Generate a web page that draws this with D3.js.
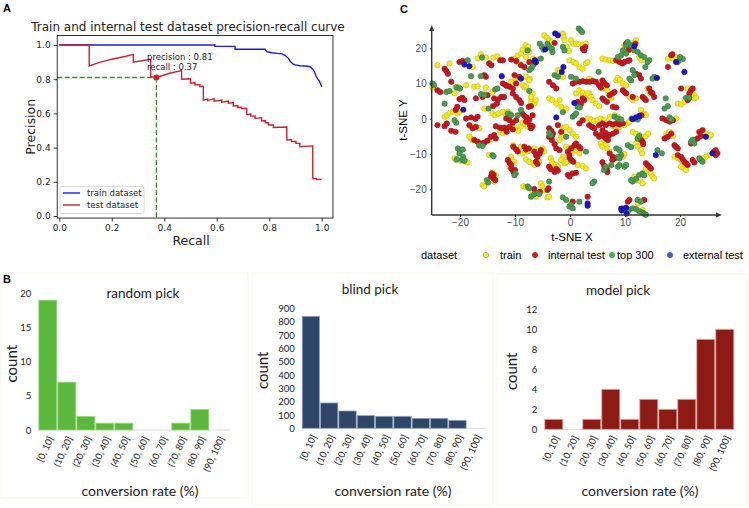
<!DOCTYPE html>
<meta charset="utf-8">
<style>
body { margin: 0; background: #fff; }
svg { display: block; }
.mpl text { font-family: "DejaVu Sans", sans-serif; fill: #222; }
.tsne text { font-family: "Liberation Sans", Arial, sans-serif; }
.hist text { font-family: Lato, "Open Sans", sans-serif; fill: #222; }
.panel-letter { font-family: "Liberation Sans", Arial, sans-serif; font-weight: bold; font-size: 11px; fill: #000; }
</style>
<body>
<script src="https://cdn.jsdelivr.net/npm/d3@7"></script>
<script>
// ---- data ----
// panel A: precision-recall curves as [recall, precision]
var trainPR = [[0,1],[0.593,1],[0.593,0.992],[0.67,0.992],[0.67,0.975],[0.784,0.975],[0.79,0.961],[0.81,0.955],
  [0.83,0.951],[0.848,0.948],[0.86,0.94],[0.873,0.922],[0.88,0.905],[0.89,0.889],[0.9,0.884],[0.917,0.879],
  [0.94,0.877],[0.955,0.873],[0.965,0.86],[0.972,0.845],[0.978,0.82],[0.985,0.8],[0.991,0.79],[0.995,0.775],[1,0.756]];
var testPR = [[0,1],[0.114,1],[0.114,0.877],[0.15,0.897],[0.2,0.917],[0.25,0.933],[0.282,0.945],[0.282,0.899],
  [0.348,0.916],[0.348,0.815],[0.37,0.81],[0.42,0.835],[0.466,0.85],[0.466,0.8],[0.5,0.803],[0.5,0.776],
  [0.517,0.78],[0.517,0.766],[0.536,0.768],[0.536,0.756],[0.549,0.758],[0.549,0.678],[0.565,0.684],[0.565,0.675],
  [0.59,0.686],[0.59,0.672],[0.619,0.678],[0.619,0.665],[0.644,0.672],[0.644,0.66],[0.663,0.663],[0.663,0.643],
  [0.68,0.646],[0.68,0.635],[0.695,0.636],[0.695,0.628],[0.714,0.63],[0.714,0.593],[0.73,0.596],[0.73,0.584],
  [0.746,0.585],[0.746,0.571],[0.771,0.575],[0.771,0.556],[0.785,0.558],[0.785,0.545],[0.797,0.546],[0.797,0.532],
  [0.816,0.533],[0.816,0.518],[0.867,0.52],[0.867,0.444],[0.885,0.447],[0.885,0.435],[0.902,0.437],[0.902,0.425],
  [0.917,0.425],[0.917,0.405],[0.966,0.41],[0.966,0.22],[0.98,0.218],[0.98,0.214],[1,0.214]];
var bestPoint = [0.37, 0.81];
var prTicks = [0, 0.2, 0.4, 0.6, 0.8, 1.0];

// panel B: histograms
var binLabels = ["[0, 10]","(10, 20]","(20, 30]","(30, 40]","(40, 50]","(50, 60]","(60, 70]","(70, 80]","(80, 90]","(90, 100]"];
var randomCounts = [19, 7, 2, 1, 1, 0, 0, 1, 3, 0];
var blindCounts = [840, 190, 130, 95, 90, 90, 75, 75, 60, 0];
var modelCounts = [1, 0, 1, 4, 1, 3, 2, 3, 9, 10];

// panel C: t-SNE coordinates
var trainPts = [[-25,8.9],[-24.1,15.2],[-21.9,15.7],[-20.8,8.9],[-20.4,9.2],[-20.1,8.6],[-21,7.2],[-22.8,0.6],[-22.4,1.0],
  [-21.9,1.7],[-21.3,2.0],[-20.4,1.5],[-20.1,2.0],[-21,-11.2],[-20.7,-11.7],[-20.4,-11.5],[-19.8,-12],[-18.9,-12.2],
  [-18.6,-12.4],[-17.7,14.7],[-18.9,9.5],[-16.8,17.1],[-16.2,18.3],[-15.3,17.4],[-14.7,15.8],[-13.9,17.4],[-13.2,17.7],
  [-17.4,9.1],[-16.8,9.2],[-15.3,8.9],[-15.6,7.2],[-14.1,7.6],[-15.6,2.9],[-14.1,1.5],[-13.6,1.0],[-13,1.5],[-12.2,2.0],
  [-18,-2.3],[-17.4,-2.1],[-16.5,-2.7],[-12.7,-3.7],[-12.2,-4],[-17.7,-6.1],[-16.5,-7.6],[-15.9,-7.0],[-15.3,-6.5],
  [-18,-5.6],[-18.3,-5.0],[-14.7,-6.0],[-14.7,-10.3],[-15.9,-18.8],[-15.6,-19.2],[-13.8,-17.8],[-13.5,-15.9],[-14.1,-15.2],
  [-11,-13.6],[-10.7,-10.8],[-10.1,-12.2],[-10.1,17.1],[-9.5,18],[-8.9,18.5],[-8.6,19.6],[-8.1,20.9],[-7.6,20.4],
  [-7.4,19],[-6.7,17.1],[-6.1,16.8],[-8,17.5],[-9.5,16],[-9.2,15.6],[-10.7,10.5],[-9.8,11.4],[-9.5,11.9],[-8,11.9],
  [-7.3,11.4],[-7.4,10.9],[-8.6,9.5],[-8.3,8.9],[-8,9.2],[-6.8,7.2],[-7.1,6.2],[-11.3,2.0],[-10.9,1.5],[-11.6,1.0],
  [-11.2,0.6],[-10.5,-2.3],[-9.8,-2.7],[-9.4,-3.4],[-8.9,-2.1],[-8.6,-1.1],[-8.1,-1.5],[-7.7,-2.3],[-7.1,4.8],[-6.5,4.3],
  [-6.2,5.3],[-10.4,-7.5],[-8.9,-7.9],[-8.6,-9.8],[-7.7,-9.3],[-6.8,-8.9],[-6.5,-8.4],[-5,-8.4],[-4.7,-9.3],[-8,-11.5],
  [-7.4,-12.2],[-6.8,-12.6],[-6.5,-13.1],[-5.9,-11.7],[-5.6,-12.2],[-8.5,-19.1],[-8,-19.4],[-6.8,-20.7],[-6.2,-22.1],
  [-5.3,-20.7],[-5.3,-18.3],[-5,-19.2],[-4.7,-20.2],[-4.1,-22.3],[-3.8,-22.1],[-4.7,23.7],[-4.2,23],[-3.8,22.3],
  [-3.3,21.8],[-1.3,24.2],[-1.2,23.2],[-1,22.3],[-0.6,20.4],[-0.2,19.2],[0.2,22.3],[0.6,21.3],[1.1,21.3],[1.7,21.1],
  [2.3,21.1],[2.9,21.3],[-0.1,16.6],[0.6,16.1],[1.1,15.7],[1.7,14.7],[2.3,14.2],[2.9,15.7],[3.2,16.1],[-2.2,13.8],
  [-1.9,13.1],[-1.6,12.4],[-1.3,11.9],[-3.8,5.8],[-3.2,5.3],[-2.5,4.3],[-1.9,5.3],[-1.6,3.4],[-0.7,2.9],[1.1,7.2],
  [1.7,8.1],[2.3,7.4],[2.3,6.2],[2.9,6.7],[3.5,7.2],[-1.3,-2.7],[-0.7,-2.3],[-0.1,-3.2],[0.5,-4.2],[1.1,-5.1],[-1.6,-5.1],
  [-1.3,-4.4],[-1.9,-6.0],[-0.7,-7.9],[-0.1,-8.4],[0.5,-9.3],[1.1,-8.9],[1.7,-9.8],[-1.3,-10.8],[-1.6,-11.7],[-1,-12.6],
  [-0.7,-12.2],[-3.5,-11.2],[-3.3,-12.2],[-3.1,-12.9],[-2.6,-13.1],[-2.2,-13.6],[1.4,-13.1],[2.3,-13.4],[2.9,-14.1],
  [0.2,-23.5],[3.5,11.4],[4.1,10.9],[5.9,8.6],[6.5,9.1],[6.8,8.1],[7.2,6.7],[7.5,5.8],[3.2,7.2],[3.8,6.2],[4.1,5.3],
  [4.7,4.3],[5.3,3.6],[8.4,10.9],[8.7,11.6],[9.1,11.1],[9.6,10],[10.2,9.5],[10.8,6.2],[11.4,5.3],[12,5.8],[5.9,17.1],
  [6.5,16.8],[7.2,16.6],[7.8,16.4],[8.4,16.6],[8.8,17.1],[10.2,20.4],[10.7,19.4],[11.1,20.4],[11.7,21.8],[12,22.3],
  [9.9,20.8],[12.6,17.5],[13,16.6],[14.1,8.6],[14.4,7.8],[14.6,7.1],[3.2,0.1],[3.8,-0.2],[4.4,-0.6],[5,-0.4],[5.6,0.1],
  [6.2,-0.4],[7.2,0.6],[8.1,1.0],[8.7,0.6],[7.8,-2.1],[8.4,-2.7],[9,-2.3],[9.9,-1.8],[10.5,-1.3],[10.8,-0.8],[13.5,1.5],
  [13.8,1.0],[12.9,2.5],[5.6,-7.0],[5.9,-7.9],[6.5,-7.2],[6.8,-8.4],[7.2,-9.3],[8.7,-11.2],[9.6,-10.8],[9.9,-10.0],
  [12,-7.0],[12.3,-7.9],[12.9,-8.9],[13.1,-9.8],[11.4,-3.7],[12,-4.2],[12.6,-4.6],[13.1,-5.1],[13.8,-4.9],[14.2,-4.2],
  [13.8,-14.1],[14.4,-15.0],[14.7,-15.5],[15,-16.4],[15.3,-16.9],[11.7,-16.4],[12,-17.4],[12.9,-17.8],[13.2,-18.3],
  [12.3,-24.0],[13.2,-25.8],[17.8,17.1],[18.7,17.1],[19.3,17.5],[19.9,16.6],[20.2,16.8],[19.6,4.3],[20.2,4.1],[20.8,4.8],
  [21.4,5.5],[22,6.2],[22.6,5.8],[21.4,8.6],[22.3,8.1],[22.6,6.7],[22.9,6.0],[18.7,-0.4],[19.3,0.1],[17.5,-4.2],
  [18.1,-3.7],[17.8,-4.6],[18.7,-4.9],[19.0,-10.8],[19.6,-11.2],[20.2,-11.7],[20.5,-12.2],[20.8,-12.6],[20.2,-13.6],
  [20.8,-14.1],[21.1,-14.5],[23.5,-5.1],[24.1,-4.6],[24.7,-4.2],[25.3,-5.1],[25.6,-4.6],[25.3,-10.3],[24.7,-10.8],[24.1,-11.2]];
var internalPts = [[-22.8,14.2],[-22.5,13.6],[-22.2,12.8],[-21.6,10.5],[-24.1,8.1],[-23.6,7.6],[-24.1,-1.8],[-22.8,-2.1],
  [-22.4,-1.3],[-21.6,-3.4],[-20.8,-3.7],[-20.8,2.5],[-20.5,3.4],[-20.1,5.6],[-19.6,6.0],[-19.2,5.3],[-20.1,16.1],
  [-19.5,16.4],[-14.7,15.7],[-14.3,15.2],[-12.7,16.6],[-12.2,16.6],[-15.6,12.4],[-15.3,11.9],[-17.1,5.8],[-15.9,6.2],
  [-15,6.7],[-13.8,5.8],[-13.1,5.5],[-12.5,6.2],[-12,6.2],[-12.2,10],[-11.6,9.4],[-14,3.6],[-13.3,4.3],[-18.9,0.1],
  [-18,0.4],[-17.2,0],[-16.8,0.6],[-18.3,-1.8],[-17.7,-2.7],[-17.1,-2.3],[-13.5,-2.1],[-12.8,-2.5],[-12.4,-2.7],
  [-11.9,-2.5],[-11.6,-3.2],[-11.5,-3.7],[-17.4,-6],[-16.8,-6.5],[-16.2,-7],[-15.6,-6.8],[-15,-6.2],[-14.4,-5.1],
  [-13.8,-4.6],[-13.5,-5.6],[-14.4,-16.4],[-13.9,-16.9],[-13.6,-17.4],[-13.9,-15.9],[-14.2,-15.5],[-11.3,-11.7],
  [-11,-12.5],[-10.7,-13.1],[-10.7,-14.1],[-10.3,-15.0],[-10,-14.5],[-10.7,16.8],[-9.8,16.4],[-8.9,15.2],[-8.3,14.7],
  [-7.4,16.1],[-6.5,15.7],[-6.2,16.1],[-11.6,9.5],[-11,9.1],[-10.4,8.6],[-9.8,10],[-9.2,11.9],[-10.1,12.4],[-10.4,7.2],
  [-9.8,6.2],[-9.2,5.3],[-8.9,4.5],[-7.5,3.4],[-7.1,3.6],[-11.6,0.1],[-11,-0.4],[-10.4,-1.1],[-9.8,-0.4],[-11,-2.3],
  [-10.4,-3],[-8.7,1.5],[-8.3,0.8],[-7.9,0.4],[-8,-0.8],[-7.4,-0.2],[-6.8,1.0],[-7.3,-1.8],[-6.8,-2.1],[-7.1,-2.7],
  [-10.3,-7.9],[-9.8,-8.7],[-9.5,-9.3],[-8.3,-7.9],[-8,-8.7],[-7.5,-8.4],[-6.5,-9.3],[-6.2,-10.3],[-5.9,-10.8],
  [-5.5,-9.8],[-5.3,-8.9],[-6.2,-12.2],[-5.9,-12.8],[-5.5,-20.7],[-4.1,-20.2],[-3.9,-19.7],[-6.5,-19.9],[-2.8,21.5],
  [2.3,19.9],[2.6,19.4],[2.8,20.4],[0.5,10],[1.1,10.5],[1.8,10.5],[2.3,10.7],[2.9,10.5],[3.5,10.5],[4.1,10.7],
  [-3.8,10.5],[-3.1,9.5],[-2.5,8.6],[1.4,4.8],[2,4.3],[2.6,5.3],[2.3,5.8],[-3.8,-2.7],[-3.4,-3.4],[-3.1,-4.2],[-3.3,-4.9],
  [-3.8,-5.1],[-3.3,-6],[-2.8,-7.2],[-2.5,-8.4],[-1.9,-8.9],[-0.4,-9.3],[-0.1,-10.3],[0.2,-8.4],[0.8,-7.5],[1.1,-7.0],
  [1.6,-7.9],[1.9,-8.4],[-0.1,-11],[0.2,-11.7],[0.6,-12.2],[-2.5,-14.2],[-2.2,-14.7],[-2.8,-15.1],[-3.8,-13.6],
  [-3.5,-14.3],[-0.4,-15.9],[-0.1,-16.4],[0.5,-15.5],[1.1,-15.3],[0.5,-23.5],[3.2,-22.1],[-2.2,-1.8],[-1.6,-3.7],
  [1.7,-1.3],[2.3,-0.4],[4.7,10.5],[5.3,9.5],[5.6,8.9],[5.9,10.9],[6.2,10.2],[6.7,9.5],[5.9,5.8],[6.2,5.3],[6.7,4.8],
  [7.2,6.7],[7.7,7.2],[8.1,7.6],[9.6,8.1],[9.9,7.6],[10.2,7.2],[11.4,6.2],[7.8,3.4],[8.4,3.2],[8.4,16.6],[9,16.1],
  [9.5,15.7],[9.9,16.1],[10.5,16.4],[10.8,16.6],[10.2,21.3],[10.7,19.6],[11.9,21.3],[12.6,12.4],[12.9,11.4],[12,12.8],
  [14.4,8.6],[14.7,7.6],[15,7.2],[15.3,6.2],[13.2,6.2],[13.5,5.8],[13.8,5.3],[3.5,-1.8],[4.0,-2.3],[4.4,-2.7],[5.3,-1.8],
  [5.9,-1.3],[6.5,-1.8],[7.2,-1.3],[7.8,-1.6],[8.4,-1.3],[9,-1.6],[9.6,-1.3],[12,0.1],[12.6,0.6],[13.0,1.0],[5.9,-3.2],
  [6.5,-4.0],[7.2,-4.6],[7.8,-4.2],[8.4,-3.7],[4.7,-4.2],[5.3,-5.1],[5.6,-4.6],[6.2,-5.1],[6.5,-5.6],[6.9,-6.0],
  [7.2,-9.8],[7.8,-10.8],[8.1,-11.2],[7.7,-11.7],[5.9,-12.3],[6.2,-13.3],[6.7,-14.2],[6.8,-15.1],[12.6,-5.6],[12.9,-6.0],
  [13.2,-6.5],[13.3,-7.2],[13.8,-12.6],[14.1,-13.1],[14.4,-13.6],[14.7,-14.1],[10.5,-23.5],[10.8,-23.0],[13.5,-23.0],
  [18.4,18],[18.6,18.3],[17.8,14.7],[20.2,8.6],[21.7,7.2],[22,8.1],[22.3,8.6],[21.4,5.3],[21.6,6.0],[16.8,0.1],
  [17.5,-0.4],[18.1,-0.8],[18.7,-0.4],[17.2,-5.6],[17.8,-5.1],[18.4,-4.2],[19.0,-7.5],[19.3,-8.0],[19.6,-8.4],
  [19.6,-10.3],[20.2,-10.8],[20.5,-11.5],[20.8,-12.2],[21.1,-12.6],[21.4,-13.1],[22,-7.0],[22.6,-6.0],[23.2,-5.6],
  [23.8,-4.9],[23.5,-3.7],[24.1,-3.2],[26.2,-9.3],[26.5,-8.9],[26.8,-9.8],[26.5,-10.3],[22.3,-11.7],[22.6,-12.4]];
var top300Pts = [[-25,10],[-24.7,9.5],[-22.5,7.6],[-21.9,7.9],[-20.6,8.9],[-20.0,8.6],[-22.8,4.3],[-20.7,-1.1],[-21,-0.4],
  [-20.4,-8.4],[-20,-9.1],[-19.5,-8.7],[-20.1,-9.8],[-19.4,-10.8],[-20.6,-11.5],[-19.6,-11.7],[-19.2,-11.9],[-18.6,16.6],
  [-18,12.1],[-16,17.4],[-16.2,12.1],[-16.2,7.0],[-15.6,6.7],[-13.6,8.3],[-13.2,8.6],[-14.8,2.9],[-16.5,-7.5],[-15.9,-7.7],
  [-14.1,-10.3],[-13.9,-10.6],[-15.1,-17.4],[-14.9,-18.1],[-9.9,-15.5],[-10.1,-16.0],[-7.4,13.8],[-7.1,14.2],[-6.8,14.9],
  [-5.3,17.1],[-5.5,21.3],[-5.1,20.4],[-4.8,19.6],[-7.4,7.9],[-11.3,1.5],[-10.7,1.0],[-9.5,1.0],[-8.9,2.5],[-7.7,19.4],
  [-7.7,-19.2],[-7.4,-19.7],[-7.1,-22.1],[-6.5,-21.4],[-5.9,-21.1],[-5.6,-21.3],[-3.5,-4.6],[-3.8,-4.0],[-4.1,21.3],
  [-3.8,20.4],[-3.3,19.9],[-3.2,18.9],[-1.3,20.4],[-1,19.4],[1.6,25.6],[1.9,25.1],[2.2,24.6],[-2.8,12.4],[-2.2,11.9],
  [0.2,11.9],[1.1,11.4],[1.4,3.4],[1.8,3.2],[0.5,0.6],[0.8,1.0],[1.1,1.5],[-1.3,1.9],[-0.7,-5.1],[-1.3,-22.3],[-0.7,-23],
  [-0.1,-24.9],[0.2,-24.4],[0.5,-25.4],[1.7,-23.5],[-3.8,-17.8],[2.9,-9.3],[4.4,-17.8],[4.1,-18.3],[5.2,13.3],[8.7,17.5],
  [9.3,18.0],[9.6,19.4],[10.2,20.8],[10.5,21.8],[11.1,20.9],[11.7,19.4],[12.3,19.0],[12.9,18.0],[13.5,17.5],[10.2,18.5],
  [11.4,13.8],[11.7,12.4],[11.1,10.9],[10.8,11.4],[14.4,16.6],[14.1,16.1],[13.7,14.7],[15.3,11.9],[15,11.4],[12.3,-0.2],
  [11.2,0.1],[8.1,0.6],[8.7,0.1],[9.3,-0.2],[8.4,-8.4],[9,-8.9],[9.3,-10.3],[8.7,-10.8],[9,-11.2],[10.5,-7.5],[11.1,-8.0],
  [12.3,-5.6],[12.6,-4.9],[6.2,-14.5],[6.5,-13.6],[7.5,-13.1],[8.7,-13.6],[9.0,-13.1],[9.9,-13.6],[10.2,-13.1],
  [11.4,-17.8],[11.1,-17.4],[12,-17.0],[12.6,-15.9],[13.2,-15.5],[13.5,-16.0],[9.6,-25.4],[10.2,-25.6],[10.8,-25.8],
  [11.4,-25.4],[12.0,-25.6],[12.6,-26.2],[13.2,-26.6],[13.5,-27.0],[13.8,-27.2],[12.3,-23.0],[12.9,-23.5],[15.9,-8.9],
  [16.7,-9.8],[17.4,5.8],[17.2,2.9],[17.8,3.6],[19.6,16.1],[20.5,17.0],[20.0,17.5],[21.1,6.0],[21.7,6.0],[18.1,0.4],
  [18.4,-0.2],[22,-6.5],[22.3,-5.9],[22.6,-7.0],[23.8,-11.7],[24.1,-12.2],[23.5,-11.2]];
var externalPts = [[-19.4,2.6],[-19.2,15.4],[-18.3,14.9],[-12.4,12.1],[-8.9,11.4],[-6.4,16.6],[-6.2,16.1],[-4.5,19.7],
  [-2.7,24.2],[-2.2,23.7],[-1.2,14.7],[-1.5,13.3],[0.8,4.5],[-2.5,0.4],[3.2,-24],[3.2,-24.7],[11.7,20.6],[15.8,11.6],
  [11.4,-0.1],[12,0.4],[12.6,0.8],[9.3,-25.5],[9.4,-26],[10.3,-26.9],[10.2,-25.2],[15.6,-10.3],[19.3,16.1],[20.8,13.3],
  [24.7,-5.1],[25.9,-9.8]];
var tsneTicks = [-20, -10, 0, 10, 20];
var groupNames = ["train", "internal test", "top 300", "external test"];

var svg = d3.select("body").append("svg")
  .attr("width", 749).attr("height", 508);
svg.append("rect").attr("width", 749).attr("height", 508).attr("fill", "#fff");

// ================= panel A =================
var gA = svg.append("g").attr("class", "mpl");
var xA = d3.scaleLinear().domain([0, 1]).range([59.3, 321.7]);
var yA = d3.scaleLinear().domain([0, 1]).range([216, 45]);
var frameA = {x0: xA(-0.008), x1: xA(1.043), y0: yA(1.055), y1: yA(-0.012)};

svg.append("text").attr("class", "panel-letter").attr("x", 3).attr("y", 12).text("A");

gA.append("text").attr("x", 188).attr("y", 31).attr("text-anchor", "middle")
  .style("font-size", "12px").text("Train and internal test dataset precision-recall curve");

var line = d3.line().x(function(d) { return xA(d[0]); }).y(function(d) { return yA(d[1]); });

// dashed guides to the chosen threshold
gA.append("line")
  .attr("x1", frameA.x0).attr("x2", xA(bestPoint[0]))
  .attr("y1", yA(bestPoint[1])).attr("y2", yA(bestPoint[1]))
  .attr("stroke", "#3d8b2f").attr("stroke-width", 1.3).attr("stroke-dasharray", "5,2.5");
gA.append("line")
  .attr("x1", xA(bestPoint[0])).attr("x2", xA(bestPoint[0]))
  .attr("y1", yA(bestPoint[1])).attr("y2", frameA.y1)
  .attr("stroke", "#3d8b2f").attr("stroke-width", 1.3).attr("stroke-dasharray", "5,2.5");

gA.append("path").attr("d", line(trainPR)).attr("fill", "none").attr("stroke", "#1a1ae6").attr("stroke-width", 1.4);
gA.append("path").attr("d", line(testPR)).attr("fill", "none").attr("stroke", "#c8232c").attr("stroke-width", 1.4);

gA.append("circle").attr("cx", xA(bestPoint[0])).attr("cy", yA(bestPoint[1])).attr("r", 3).attr("fill", "#c8232c");
gA.append("text").attr("x", 147).attr("y", 60).style("font-size", "8.5px").text("precision : " + bestPoint[1].toFixed(2));
gA.append("text").attr("x", 147).attr("y", 70).style("font-size", "8.5px").text("recall : " + bestPoint[0].toFixed(2));

gA.append("rect")
  .attr("x", frameA.x0).attr("y", frameA.y0)
  .attr("width", frameA.x1 - frameA.x0).attr("height", frameA.y1 - frameA.y0)
  .attr("fill", "none").attr("stroke", "#000").attr("stroke-width", 0.8);

var axA = gA.append("g").attr("transform", "translate(0," + frameA.y1 + ")")
  .call(d3.axisBottom(xA).tickValues(prTicks).tickFormat(d3.format(".1f")).tickSize(3.5).tickPadding(3));
var ayA = gA.append("g").attr("transform", "translate(" + frameA.x0 + ",0)")
  .call(d3.axisLeft(yA).tickValues(prTicks).tickFormat(d3.format(".1f")).tickSize(3.5).tickPadding(3));
[axA, ayA].forEach(function(a) {
  a.select(".domain").remove();
  a.selectAll("text").style("font-size", "9px").style("font-family", "DejaVu Sans").attr("fill", "#222");
  a.selectAll("line").attr("stroke", "#000").attr("stroke-width", 0.8);
});

gA.append("text").attr("x", (frameA.x0 + frameA.x1) / 2 - 4).attr("y", 245).attr("text-anchor", "middle")
  .style("font-size", "12.5px").text("Recall");
gA.append("text").attr("transform", "translate(35," + ((frameA.y0 + frameA.y1) / 2) + ") rotate(-90)")
  .attr("text-anchor", "middle").style("font-size", "12.5px").text("Precision");

// legend
var legA = gA.append("g");
legA.append("rect").attr("x", 60).attr("y", 186.5).attr("width", 84).attr("height", 27).attr("rx", 2)
  .attr("fill", "#fff").attr("fill-opacity", 0.8).attr("stroke", "#d0d0d0").attr("stroke-width", 0.8);
[["train dataset", "#1a1ae6", 193], ["test dataset", "#c8232c", 205]].forEach(function(e) {
  legA.append("line").attr("x1", 63).attr("x2", 80).attr("y1", e[2]).attr("y2", e[2])
    .attr("stroke", e[1]).attr("stroke-width", 1.4);
  legA.append("text").attr("x", 87).attr("y", e[2] + 3).style("font-size", "8.5px").text(e[0]);
});

// ================= panel C =================
var gC = svg.append("g").attr("class", "tsne");
var xC = d3.scaleLinear().domain([-20, 20]).range([460, 680]);
var yC = d3.scaleLinear().domain([-20, 20]).range([189.3, 48.3]);
var cX0 = 431.7, cX1 = 722, cY0 = 25, cY1 = 215;

svg.append("text").attr("class", "panel-letter").attr("x", 400).attr("y", 13).text("C");

var groups = [
  {pts: trainPts, fill: "#f3ea1f", stroke: "#c2b52c"},
  {pts: internalPts, fill: "#c5171f", stroke: "#9a1419"},
  {pts: top300Pts, fill: "#4c9b55", stroke: "#33763a"},
  {pts: externalPts, fill: "#1c12c9", stroke: "#140f8c"}
];
groups.forEach(function(g) {
  gC.append("g").selectAll("circle").data(g.pts).enter().append("circle")
    .attr("cx", function(d) { return xC(d[0]); })
    .attr("cy", function(d) { return yC(d[1]); })
    .attr("r", 2.7)
    .attr("fill", g.fill).attr("stroke", g.stroke).attr("stroke-width", 0.6);
});

// axes with arrow heads
gC.append("line").attr("x1", cX0).attr("x2", cX1 - 4).attr("y1", cY1).attr("y2", cY1)
  .attr("stroke", "#333").attr("stroke-width", 1.4);
gC.append("line").attr("x1", cX0).attr("x2", cX0).attr("y1", cY1).attr("y2", cY0 + 4)
  .attr("stroke", "#333").attr("stroke-width", 1.4);
gC.append("path").attr("d", "M" + cX1 + "," + cY1 + "l-6,-2.5v5z").attr("fill", "#333");
gC.append("path").attr("d", "M" + cX0 + "," + cY0 + "l-2.5,6h5z").attr("fill", "#333");

var axC = gC.append("g").attr("transform", "translate(0," + cY1 + ")")
  .call(d3.axisBottom(xC).tickValues(tsneTicks).tickSize(2).tickPadding(2));
var ayC = gC.append("g").attr("transform", "translate(" + cX0 + ",0)")
  .call(d3.axisLeft(yC).tickValues(tsneTicks).tickSize(2).tickPadding(3));
[axC, ayC].forEach(function(a) {
  a.select(".domain").remove();
  a.selectAll("text").style("font-size", "10px").style("font-family", "Liberation Sans").attr("fill", "#4d4d4d");
  a.selectAll("line").attr("stroke", "#333");
});

gC.append("text").attr("x", 572).attr("y", 241).attr("text-anchor", "middle")
  .style("font-size", "11.5px").attr("fill", "#000").text("t-SNE X");
gC.append("text").attr("transform", "translate(407,120) rotate(-90)").attr("text-anchor", "middle")
  .style("font-size", "11.5px").attr("fill", "#000").text("t-SNE Y");

// legend
gC.append("text").attr("x", 421).attr("y", 259).style("font-size", "11px").attr("fill", "#000").text("dataset");
var legC = [
  {mx: 486, tx: 500, fill: "#f3ea1f", stroke: "#999"},
  {mx: 535, tx: 548, fill: "#d01c1c", stroke: "#d01c1c"},
  {mx: 612, tx: 617, fill: "#4caf50", stroke: "#4caf50"},
  {mx: 670, tx: 683, fill: "#4a5bb0", stroke: "#4a5bb0"}
];
legC.forEach(function(l, i) {
  gC.append("circle").attr("cx", l.mx).attr("cy", 255).attr("r", 2.6)
    .attr("fill", l.fill).attr("stroke", l.stroke).attr("stroke-width", 0.8);
  gC.append("text").attr("x", l.tx).attr("y", 259).style("font-size", "11px").attr("fill", "#000").text(groupNames[i]);
});

// ================= panel B =================
svg.append("text").attr("class", "panel-letter").attr("x", 3).attr("y", 283).text("B");

var hists = [
  {counts: randomCounts, title: "random pick", box: [1, 273, 247, 225], xr: [38.3, 228.3], yr: [430, 293.3],
   max: 20, ticks: d3.range(0, 21, 5), fill: "#5cb83c", edge: "#9fd68a", base: 230,
   titleX: 143, titleY: 297.5, countX: 17, xlabX: 140},
  {counts: blindCounts, title: "blind pick", box: [252, 273, 241, 232], xr: [301.7, 485], yr: [428.3, 308.3],
   max: 900, ticks: d3.range(0, 901, 100), fill: "#2e4668", edge: "#98a6c6", base: 485,
   titleX: 370, titleY: 293.5, countX: 268, xlabX: 393},
  {counts: modelCounts, title: "model pick", box: [497, 274, 250, 231], xr: [544.3, 734.3], yr: [429.3, 309.3],
   max: 12, ticks: d3.range(0, 13, 2), fill: "#8c1b14", edge: "#e5a3a0", base: 734.3,
   titleX: 618, titleY: 294.5, countX: 517, xlabX: 640}
];

hists.forEach(function(h) {
  var g = svg.append("g").attr("class", "hist");
  g.append("rect").attr("x", h.box[0]).attr("y", h.box[1]).attr("width", h.box[2]).attr("height", h.box[3])
    .attr("fill", "none").attr("stroke", "#f8f5ea").attr("stroke-width", 1);

  var x = d3.scaleBand().domain(binLabels).range(h.xr).paddingInner(0).paddingOuter(0);
  var y = d3.scaleLinear().domain([0, h.max]).range(h.yr);

  g.append("line").attr("x1", h.xr[0]).attr("x2", h.base).attr("y1", y(0)).attr("y2", y(0))
    .attr("stroke", "#d9d9d9").attr("stroke-width", 1);

  g.selectAll(".bar").data(h.counts).enter().append("rect")
    .attr("x", function(d, i) { return x(binLabels[i]) + 0.5; })
    .attr("width", x.bandwidth() - 1)
    .attr("y", function(d) { return y(d); })
    .attr("height", function(d) { return y(0) - y(d); })
    .attr("fill", h.fill).attr("stroke", h.edge).attr("stroke-width", 0.8)
    .style("display", function(d) { return d > 0 ? null : "none"; });

  var ay = g.append("g").attr("transform", "translate(" + (h.xr[0] - 2) + ",0)")
    .call(d3.axisLeft(y).tickValues(h.ticks).tickSize(0).tickPadding(5));
  ay.select(".domain").remove();
  ay.selectAll("text").style("font-size", "9.5px").style("font-family", "Lato").attr("fill", "#333");

  g.selectAll(".xl").data(binLabels).enter().append("text")
    .attr("transform", function(d) { return "translate(" + (x(d) + x.bandwidth() / 2 + 3) + "," + (y(0) + 7) + ") rotate(-65)"; })
    .attr("text-anchor", "end").attr("dy", "0.35em")
    .style("font-size", "9.5px").attr("fill", "#333").text(function(d) { return d; });

  g.append("text").attr("x", h.titleX).attr("y", h.titleY).attr("text-anchor", "middle")
    .style("font-size", "13.5px").text(h.title);
  g.append("text").attr("transform", "translate(" + h.countX + "," + ((h.yr[0] + h.yr[1]) / 2 + 2) + ") rotate(-90)")
    .attr("text-anchor", "middle").style("font-size", "15px").text("count");
  g.append("text").attr("x", h.xlabX).attr("y", 496).attr("text-anchor", "middle")
    .style("font-size", "14px").text("conversion rate (%)");
});
</script>
